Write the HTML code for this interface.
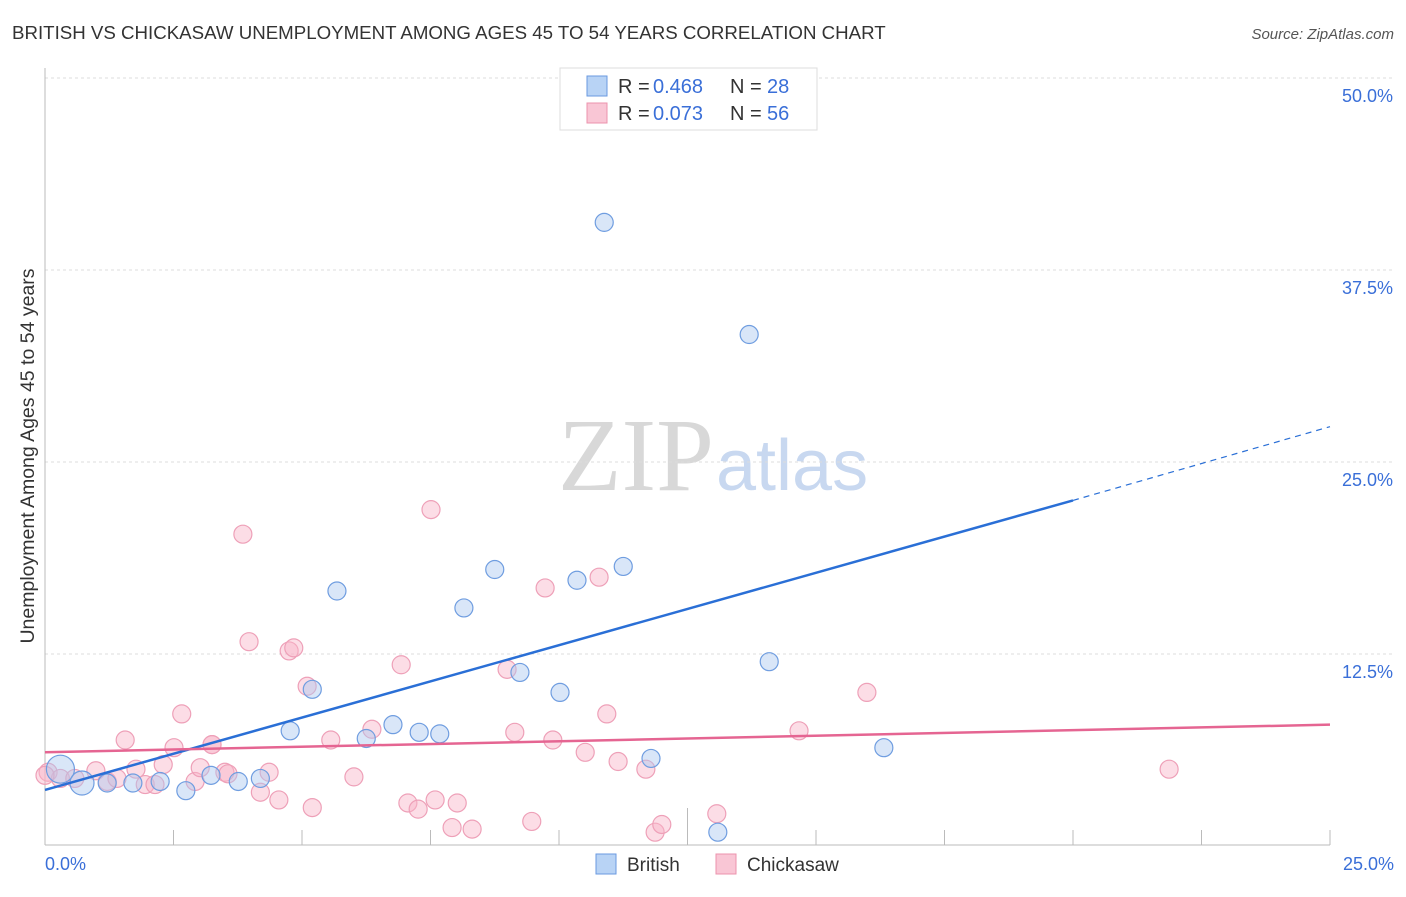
<!DOCTYPE html>
<html><head><meta charset="utf-8"><style>
body{margin:0;background:#fff;font-family:"Liberation Sans",sans-serif;}
</style></head><body>
<svg width="1406" height="892" xmlns="http://www.w3.org/2000/svg">
<text x="12" y="39" font-size="18.7" fill="#333">BRITISH VS CHICKASAW UNEMPLOYMENT AMONG AGES 45 TO 54 YEARS CORRELATION CHART</text>
<text x="1394" y="39" font-size="15" fill="#555" font-style="italic" text-anchor="end">Source: ZipAtlas.com</text>
<text x="714" y="490" font-size="104" fill="#d8d8d8" text-anchor="end" font-family="Liberation Serif">ZIP</text>
<text x="716" y="490" font-size="72" fill="#c8d8f0">atlas</text>
<g id="grid"></g>
<g id="axes"></g>
<g id="marks"></g>
<text transform="translate(34,456) rotate(-90)" font-size="19.5" fill="#333" text-anchor="middle">Unemployment Among Ages 45 to 54 years</text>
<text x="45" y="870" font-size="18" fill="#3a6fd8">0.0%</text>
<text x="1394" y="870" font-size="18" fill="#3a6fd8" text-anchor="end">25.0%</text>
<g>
<rect x="560" y="68" width="257" height="62" fill="#fff" stroke="#ddd"/>
<rect x="587" y="76" width="20" height="20" fill="#b8d3f5" stroke="#6a9ae0"/>
<rect x="587" y="103" width="20" height="20" fill="#f9c6d5" stroke="#ec93ad"/>
<text x="618" y="93" font-size="20" fill="#333">R =</text>
<text x="653" y="93" font-size="20" fill="#3a6fd8">0.468</text>
<text x="730" y="93" font-size="20" fill="#333">N =</text>
<text x="767" y="93" font-size="20" fill="#3a6fd8">28</text>
<text x="618" y="120" font-size="20" fill="#333">R =</text>
<text x="653" y="120" font-size="20" fill="#3a6fd8">0.073</text>
<text x="730" y="120" font-size="20" fill="#333">N =</text>
<text x="767" y="120" font-size="20" fill="#3a6fd8">56</text>
</g>
<g>
<rect x="596" y="854" width="20" height="20" fill="#b8d3f5" stroke="#6a9ae0"/>
<text x="627" y="871" font-size="19" fill="#333">British</text>
<rect x="716" y="854" width="20" height="20" fill="#f9c6d5" stroke="#ec93ad"/>
<text x="747" y="871" font-size="19" fill="#333">Chickasaw</text>
</g>
</svg>
<script>
const yTicks=[12.5,25,37.5,50];
const yTickLabels=["12.5%","25.0%","37.5%","50.0%"];
const britishX=[0.3,0.72,1.21,1.71,2.24,2.74,3.23,3.76,4.19,4.77,5.2,5.68,6.25,6.77,7.28,7.68,8.15,8.75,9.24,10.02,10.35,10.88,11.25,11.79,13.09,13.7,14.09,16.32];
const britishY=[5.0,4.1,4.1,4.1,4.2,3.6,4.6,4.2,4.4,7.5,10.2,16.6,7.0,7.9,7.4,7.3,15.5,18.0,11.3,10.0,17.3,40.6,18.2,5.7,0.9,33.3,12.0,6.4];
const britishR=[14,12,9,9,9,9,9,9,9,9,9,9,9,9,9,9,9,9,9,9,9,9,9,9,9,9,9,9];
const chickX=[0.06,0.3,0.58,0.99,1.21,1.4,1.56,1.77,1.95,2.14,2.3,2.51,2.66,2.92,3.02,3.25,3.5,3.56,3.85,3.97,4.19,4.36,4.55,4.75,4.84,5.1,5.2,5.56,6.01,6.36,6.93,7.06,7.26,7.51,7.59,7.92,8.02,8.31,8.99,9.14,9.47,9.73,9.88,10.51,10.78,10.93,11.15,11.69,11.87,12.0,13.07,14.67,15.99,21.87,3.25,0.0];
const chickY=[4.8,4.4,4.4,4.9,4.2,4.4,6.9,5.0,4.0,4.0,5.3,6.4,8.6,4.2,5.1,6.6,4.8,4.7,20.3,13.3,3.5,4.8,3.0,12.7,12.9,10.4,2.5,6.9,4.5,7.6,11.8,2.8,2.4,21.9,3.0,1.2,2.8,1.1,11.5,7.4,1.6,16.8,6.9,6.1,17.5,8.6,5.5,5.0,0.9,1.4,2.1,7.5,10.0,5.0,6.6,4.6];
const blueTrend=[0,3.65,20,22.5,25,27.3];
const pinkTrend=[0,6.1,25,7.9];
const NS="http://www.w3.org/2000/svg";
const xs=v=>45+v*51.4, ys=v=>846-v*15.36;
function mk(tag,attrs,parent){const e=document.createElementNS(NS,tag);for(const k in attrs)e.setAttribute(k,attrs[k]);document.getElementById(parent).appendChild(e);return e;}
yTicks.forEach((t,i)=>{
 const l=mk('line',{x1:45,x2:1394,y1:ys(t),y2:ys(t),stroke:'#ddd','stroke-dasharray':'3,3'},'grid');
 
 
 const tx=mk('text',{x:1393,y:ys(t)+24,'font-size':18,fill:'#3a6fd8','text-anchor':'end'},'grid');
 tx.textContent=yTickLabels[i];
 
 
});
const ax=mk('line',{x1:45,x2:1330,y1:845,y2:845,stroke:'#bbb'},'axes');


const ay=mk('line',{x1:45,x2:45,y1:68,y2:845,stroke:'#bbb'},'axes');


for(let i=1;i<=10;i++){const v=i*2.5;
 const t=mk('line',{x1:xs(v),x2:xs(v),y1:i==5?808:830,y2:845,stroke:'#bbb'},'axes');
 
 
}
chickX.forEach((x,i)=>{
 const c=mk('circle',{cx:xs(x),cy:ys(chickY[i]),r:9,fill:'rgba(248,180,200,0.45)',stroke:'#eea0b8','stroke-width':1.2},'marks');
 
 
});
britishX.forEach((x,i)=>{
 const c=mk('circle',{cx:xs(x),cy:ys(britishY[i]),r:britishR[i],fill:'rgba(170,200,240,0.45)',stroke:'#6f9de0','stroke-width':1.2},'marks');
 
 
});
const bl=mk('line',{x1:xs(blueTrend[0]),y1:ys(blueTrend[1]),x2:xs(blueTrend[2]),y2:ys(blueTrend[3]),stroke:'#2a6fd6','stroke-width':2.5},'marks');


const bd=mk('line',{x1:xs(blueTrend[2]),y1:ys(blueTrend[3]),x2:xs(blueTrend[4]),y2:ys(blueTrend[5]),stroke:'#2a6fd6','stroke-width':1.2,'stroke-dasharray':'6,5'},'marks');


const pl=mk('line',{x1:xs(pinkTrend[0]),y1:ys(pinkTrend[1]),x2:xs(pinkTrend[2]),y2:ys(pinkTrend[3]),stroke:'#e56592','stroke-width':2.5},'marks');


</script>
</body></html>
